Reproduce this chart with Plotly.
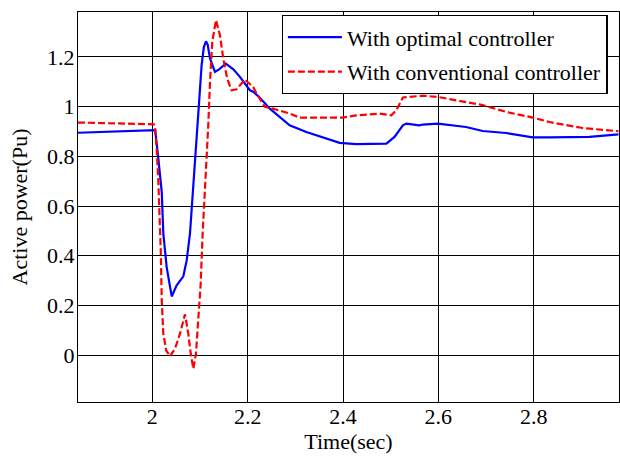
import plotly.graph_objects as go

# Series: with optimal controller (blue)
t_opt = [1.844, 1.9, 1.95, 2.0, 2.006, 2.0126, 2.0197, 2.023, 2.030, 2.0406, 2.051,
         2.065, 2.072, 2.079, 2.0825, 2.0894, 2.0963, 2.1034, 2.108, 2.1125, 2.116,
         2.121, 2.1313, 2.14, 2.154, 2.17, 2.1837, 2.2046, 2.2115, 2.224, 2.2465,
         2.288, 2.323, 2.358, 2.393, 2.428, 2.491, 2.508, 2.5256, 2.533, 2.56,
         2.5675, 2.599, 2.658, 2.693, 2.742, 2.798, 2.833, 2.917, 2.978]
p_opt = [0.895, 0.898, 0.902, 0.905, 0.905, 0.79, 0.656, 0.49, 0.354, 0.236, 0.281,
         0.317, 0.381, 0.49, 0.585, 0.777, 0.965, 1.167, 1.24, 1.263, 1.25,
         1.194, 1.14, 1.15, 1.173, 1.15, 1.12, 1.066, 1.06, 1.039, 0.992,
         0.925, 0.898, 0.876, 0.854, 0.849, 0.851, 0.878, 0.925, 0.932, 0.925,
         0.928, 0.932, 0.918, 0.902, 0.894, 0.876, 0.876, 0.878, 0.888]

# Series: with conventional controller (red dashed)
t_conv = [1.844, 1.967, 2.0, 2.003, 2.0057, 2.009, 2.0126, 2.0147, 2.0176, 2.0197,
          2.023, 2.029, 2.037, 2.0475, 2.058, 2.0685, 2.0754, 2.0805, 2.086, 2.0915,
          2.0963, 2.1014, 2.1055, 2.109, 2.114, 2.1173, 2.121, 2.1257, 2.1334, 2.1418,
          2.1487, 2.157, 2.166, 2.1768, 2.194, 2.2115, 2.2186, 2.236, 2.2534, 2.288,
          2.309, 2.358, 2.4, 2.428, 2.477, 2.5014, 2.512, 2.5256, 2.5675, 2.599,
          2.658, 2.693, 2.742, 2.798, 2.833, 2.9026, 2.978]
p_conv = [0.936, 0.932, 0.929, 0.929, 0.912, 0.831, 0.697, 0.583, 0.422, 0.22,
          0.086, 0.019, -0.005, 0.026, 0.086, 0.164, 0.086, 0.006, -0.055, 0.006,
          0.153, 0.288, 0.489, 0.61, 0.764, 0.925, 1.10, 1.26, 1.348, 1.288,
          1.194, 1.113, 1.066, 1.07, 1.109, 1.079, 1.053, 0.999, 0.992, 0.972,
          0.956, 0.956, 0.956, 0.965, 0.972, 0.965, 0.986, 1.037, 1.044, 1.039,
          1.019, 1.006, 0.979, 0.956, 0.938, 0.914, 0.901]

x_ticks = [2, 2.2, 2.4, 2.6, 2.8]
x_tick_labels = ["2", "2.2", "2.4", "2.6", "2.8"]
y_ticks = [0, 0.2, 0.4, 0.6, 0.8, 1, 1.2]
y_tick_labels = ["0", "0.2", "0.4", "0.6", "0.8", "1", "1.2"]

FONT = "Liberation Serif, Times New Roman, serif"
FS = 22

fig = go.Figure()
fig.add_trace(go.Scatter(x=t_opt, y=p_opt, mode="lines", name="With optimal controller",
                         legendgroup="a",
                         line=dict(color="#0000ff", width=2.2)))
fig.add_trace(go.Scatter(x=t_conv, y=p_conv, mode="lines", name="With conventional controller",
                         legendgroup="b",
                         line=dict(color="#ff0000", width=2.2, dash="7px,3px")))

axis_common = dict(showline=True, linecolor="black", linewidth=1.3, mirror=True,
                   showgrid=True, gridcolor="black", gridwidth=1.1, zeroline=False,
                   ticks="", automargin=False,
                   tickfont=dict(family=FONT, size=FS, color="black"))

fig.update_xaxes(range=[1.844, 2.979], tickvals=x_ticks, ticktext=x_tick_labels,
                 ticklabelstandoff=-6,
                 title=dict(text="Time(sec)", font=dict(family=FONT, size=FS, color="black"),
                            standoff=0),
                 **axis_common)
fig.update_yaxes(range=[-0.189, 1.381], tickvals=y_ticks, ticktext=y_tick_labels,
                 ticklabelstandoff=-2,
                 title=dict(text="Active power(Pu)", font=dict(family=FONT, size=FS, color="black"),
                            standoff=13),
                 **axis_common)

fig.update_layout(
    width=620, height=456,
    margin=dict(l=78, r=1, t=12, b=54),
    paper_bgcolor="white", plot_bgcolor="white",
    showlegend=True,
    legend=dict(x=0.3765, y=0.992, xanchor="left", yanchor="top",
                bgcolor="white", bordercolor="black", borderwidth=1.2,
                font=dict(family=FONT, size=FS, color="black"),
                tracegroupgap=3, itemwidth=54),
)

fig.write_html("out.html", config={"displayModeBar": False},
               post_script="document.body.style.margin='0';document.body.style.overflow='hidden';")
